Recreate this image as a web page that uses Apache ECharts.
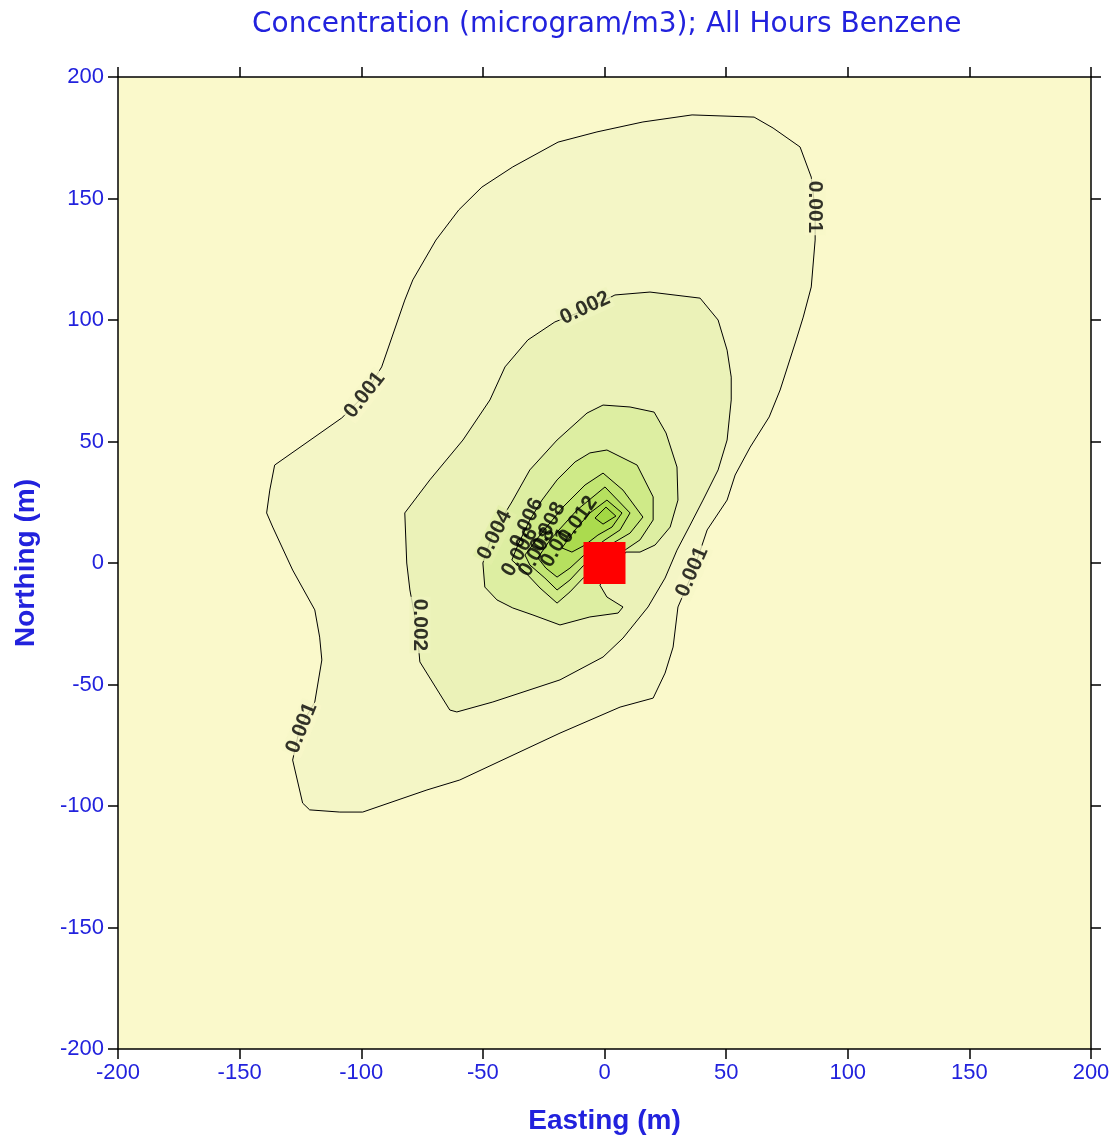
<!DOCTYPE html>
<html><head><meta charset="utf-8">
<script src="https://cdn.jsdelivr.net/npm/echarts@6/dist/echarts.min.js"></script>
<style>html,body{margin:0;padding:0;background:#fff}#c{width:1115px;height:1144px}</style>
</head><body><div id="c"></div>
<script>
// ---- data (metres) ----
const axisTicks = [-200, -150, -100, -50, 0, 50, 100, 150, 200];
const levels = [0.001, 0.002, 0.004, 0.006, 0.008, 0.010, 0.012, 0.014];

const contour001 = [[36.0,184.4],[61.5,183.5],[69.3,179.0],[80.4,171.2],[85.0,158.8],[86.6,145.3],[86.6,132.9],[85.0,113.6],[81.7,101.2],[78.8,91.8],[72.2,71.2],[67.7,60.1],[59.9,47.7],[53.7,36.2],[50.4,25.9],[42.2,13.6],[36.4,-3.7],[30.2,-18.1],[28.2,-34.6],[24.9,-45.3],[20.0,-55.6],[6.4,-59.3],[-18.3,-70.0],[-59.5,-89.3],[-73.0,-93.4],[-99.4,-102.5],[-108.8,-102.5],[-121.2,-101.6],[-124.1,-98.8],[-128.2,-81.1],[-125.3,-67.9],[-119.1,-57.2],[-116.2,-39.9],[-117.1,-30.5],[-119.1,-19.3],[-128.2,-2.9],[-136.4,14.8],[-138.9,20.6],[-137.6,30.0],[-135.6,40.3],[-108.0,59.7],[-98.6,69.1],[-91.6,80.7],[-82.1,108.2],[-78.8,116.5],[-69.3,132.9],[-59.9,145.3],[-50.4,154.7],[-37.7,163.0],[-19.1,173.2],[-3.1,177.4],[15.8,181.5]];
const contour002 = [[-8.0,104.1],[4.3,110.3],[18.7,111.5],[39.3,109.0],[46.7,100.0],[50.4,87.6],[52.1,76.5],[52.1,67.1],[50.4,50.6],[46.7,38.3],[40.5,25.9],[35.2,15.6],[29.8,5.3],[24.9,-6.2],[17.9,-18.1],[7.6,-30.9],[-0.6,-38.7],[-18.3,-48.1],[-45.9,-57.2],[-60.7,-61.3],[-63.6,-60.5],[-75.9,-40.7],[-77.2,-26.3],[-80.0,-11.1],[-81.3,0.0],[-82.1,20.6],[-71.8,34.2],[-58.2,50.6],[-47.1,67.1],[-40.9,80.7],[-31.5,91.8],[-20.4,99.2]];
const contour004 = [[-0.6,65.0],[10.5,64.2],[20.4,62.1],[25.3,53.5],[29.8,39.5],[30.2,25.9],[27.0,14.8],[20.8,7.4],[14.6,4.5],[8.8,4.5],[-1.9,-9.1],[1.0,-14.0],[7.6,-18.1],[5.6,-20.6],[-6.0,-22.2],[-18.3,-25.5],[-29.4,-21.4],[-37.7,-18.5],[-44.2,-15.2],[-49.2,-9.9],[-50.0,0.0],[-45.9,12.3],[-38.1,25.1],[-30.7,38.3],[-19.5,50.6],[-7.2,61.7]];
const contour006 = [[1.0,46.5],[13.4,40.3],[20.0,27.2],[20.0,17.7],[14.6,9.5],[8.4,5.3],[-8.8,-6.2],[-14.2,-11.9],[-19.5,-16.5],[-26.5,-10.3],[-32.7,-3.7],[-38.1,1.2],[-35.6,7.4],[-30.7,17.7],[-25.7,25.9],[-19.5,34.2],[-12.1,41.6],[-6.0,45.3]];
const contour008 = [[-0.6,37.0],[7.6,30.0],[15.8,18.9],[10.5,12.3],[3.5,8.2],[-8.8,-1.2],[-14.2,-7.0],[-19.5,-11.1],[-24.5,-6.2],[-30.7,-0.8],[-32.7,3.3],[-26.5,11.5],[-17.1,23.0],[-8.0,32.1]];
const contour010 = [[0.2,31.3],[10.5,20.6],[6.4,13.6],[0.2,9.5],[-8.8,2.9],[-14.2,-2.1],[-19.5,-5.8],[-24.1,-2.1],[-27.4,2.1],[-22.4,9.5],[-11.3,21.8]];
const contour012 = [[1.0,25.9],[7.2,20.6],[3.1,14.8],[-2.7,11.5],[-8.0,7.4],[-13.4,4.5],[-17.5,6.2],[-12.1,13.6],[-6.0,20.6]];
const contour014 = [[0.6,23.0],[4.7,19.3],[-0.6,16.0],[-3.9,18.5]];

const sourceX = [0];
const sourceY = [0];

const labelText = ['0.001','0.001','0.002','0.002','0.001','0.001','0.004','0.006','0.008','0.012','0.006','0.008','0.01'];
const labelX = [-98.6, 86.6, -8.0, -75.9, -124.5, 36.0, -45.1, -31.9, -23.2, -10.9, -34.8, -27.8, -20.0];
const labelY = [69.1, 146.5, 104.9, -25.5, -67.9, -3.7, 11.5, 16.5, 14.8, 17.7, 4.5, 4.5, 6.2];

// ---- styling ----
const contours = [contour001, contour002, contour004, contour006, contour008, contour010, contour012, contour014];
const fills = ['#F4F6C6', '#EBF2B8', '#DDEEA2', '#CFEA88', '#C2E573', '#B6E05F', '#ABDB4E', '#A2D843'];
const labelAngle = [52, -90, 25, -90, 68, 66, 63, 65, 62, 55, 60, 60, 60];
const labelBg = ['#F7F8C8', '#F7F8C8', '#EFF4BE', '#EFF4BE', '#F7F8C8', '#F7F8C8', '#E2EFA8', null, null, null, null, null, null];

const blue = '#2222DD';
const FONT = 'Liberation Sans, Arial, sans-serif';
const axisBase = {
  type: 'value', min: axisTicks[0], max: axisTicks[axisTicks.length - 1], interval: 50,
  splitLine: { show: false },
  axisLine: { show: true, onZero: false, lineStyle: { color: '#000', width: 1.5 } },
  axisTick: { show: true, inside: false, length: 10, lineStyle: { color: '#000', width: 1.5 } }
};

const chart = echarts.init(document.getElementById('c'), null, { renderer: 'canvas' });
chart.setOption({
  animation: false,
  backgroundColor: '#ffffff',
  title: {
    text: 'Concentration (microgram/m3); All Hours Benzene',
    left: 247, top: 6,
    textStyle: { color: blue, fontSize: 28, fontWeight: 'normal', fontFamily: 'DejaVu Sans, sans-serif' }
  },
  grid: { left: 118, right: 24, top: 77, bottom: 95, show: true, backgroundColor: '#FAF9CB', borderWidth: 0 },
  xAxis: [
    Object.assign({}, axisBase, {
      position: 'bottom',
      name: 'Easting (m)', nameLocation: 'middle', nameGap: 58,
      nameTextStyle: { color: blue, fontSize: 28, fontWeight: 'bold', fontFamily: FONT },
      axisLabel: { color: blue, fontSize: 22, margin: 13, fontFamily: FONT }
    }),
    Object.assign({}, axisBase, { position: 'top', axisLabel: { show: false } })
  ],
  yAxis: [
    Object.assign({}, axisBase, {
      position: 'left',
      name: 'Northing (m)', nameLocation: 'middle', nameGap: 78, nameRotate: 90,
      nameTextStyle: { color: blue, fontSize: 28, fontWeight: 'bold', fontFamily: FONT },
      axisLabel: { color: blue, fontSize: 22, margin: 14, fontFamily: FONT }
    }),
    Object.assign({}, axisBase, { position: 'right', axisLabel: { show: false } })
  ],
  series: [
    {
      type: 'custom', xAxisIndex: 0, yAxisIndex: 0, clip: true, silent: true,
      data: contours.map((c, i) => [c[0][0], c[0][1], levels[i]]),
      encode: { x: 0, y: 1 },
      renderItem: function (params, api) {
        const c = contours[params.dataIndex];
        const pts = c.map(p => api.coord(p));
        return { type: 'polygon', shape: { points: pts },
          style: { fill: fills[params.dataIndex], stroke: '#000', lineWidth: 1 } };
      },
      z: 2
    },
    {
      type: 'scatter', xAxisIndex: 0, yAxisIndex: 0, silent: true,
      symbol: 'rect', symbolSize: 42,
      itemStyle: { color: '#FF0000', opacity: 1 },
      data: sourceX.map((x, i) => [x, sourceY[i]]),
      z: 4
    },
    {
      type: 'scatter', xAxisIndex: 0, yAxisIndex: 0, silent: true,
      symbolSize: 1, itemStyle: { color: 'rgba(0,0,0,0)' },
      data: labelText.map((t, i) => ({
        value: [labelX[i], labelY[i]],
        label: Object.assign({ show: true, position: 'inside', formatter: t, rotate: labelAngle[i],
          color: '#000', fontSize: 21, fontWeight: 'bold', fontFamily: FONT, padding: [0, 2] },
          labelBg[i] ? { backgroundColor: labelBg[i] } : {})
      })),
      z: 3
    }
  ]
});
</script>
</body></html>
